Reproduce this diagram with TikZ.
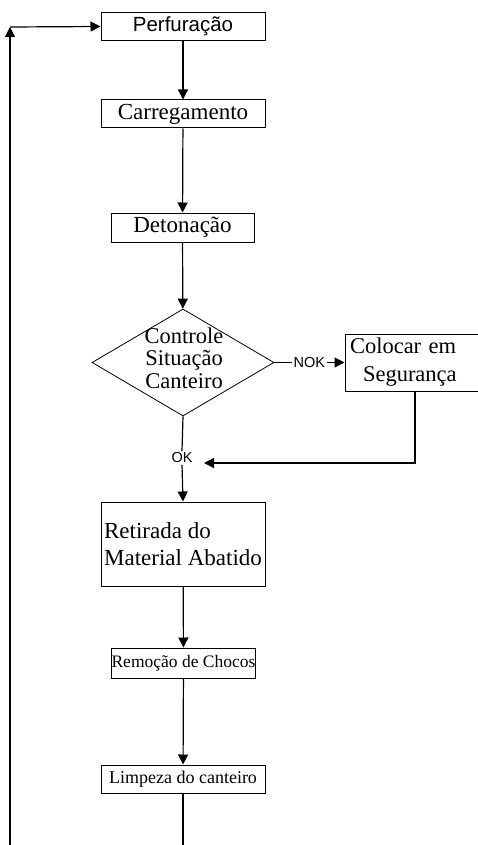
\documentclass[tikz,border=0pt]{standalone}
\usepackage{fontspec}
\setmainfont{Liberation Serif}
\setsansfont{Liberation Sans}
\usetikzlibrary{arrows.meta,shapes.geometric}

\begin{document}
\begin{tikzpicture}[x = 1pt, y = -1pt,
	box/.style = {draw, line width = 1pt, inner sep = 0pt},
	flow/.style = {line width = 1.2pt, -{Triangle[width = 10pt, length = 10pt]}},
	plain/.style = {line width = 1.2pt},
	sanslabel/.style = {font = \sffamily\fontsize{14.5}{17}\selectfont, inner sep = 1.5pt}]
	 \useasboundingbox (0, 0) rectangle (478, 845);
	 
	 \node[box, minimum width = 164pt, minimum height = 28pt, font = \sffamily\fontsize{20.5}{24}\selectfont] (perf) at (183, 26.5) {Perfuração};
	 \node[box, minimum width = 164pt, minimum height = 28pt, font = \fontsize{23}{27}\selectfont] (carr) at (183, 114) {Carregamento};
	 \node[box, minimum width = 143pt, minimum height = 29pt, font = \fontsize{23}{27}\selectfont] (deto) at (182.5, 227.5) {Detonação};
	 \node[diamond, draw, line width = 0.8pt, minimum width = 182pt, minimum height = 107pt, inner sep = 0pt] (ctrl) at (183, 362.5) {};
	 \node[align = center, inner sep = 0pt, font = \fontsize{22.5}{22.5}\selectfont] (ctrltxt) at (184, 358) {Controle\\Situação\\Canteiro};
	 \node[box, minimum width = 140pt, minimum height = 57pt, text width = 130pt, align = left, font = \fontsize{22.5}{28}\selectfont] (seg) at (415, 362.5) {Colocar em\\\hspace*{13pt}Segurança};
	 \node[sanslabel] (ok) at (182, 458) {OK};
	 \node[box, minimum width = 164pt, minimum height = 84pt, align = left, font = \fontsize{23}{27}\selectfont] (ret) at (183, 544) {Retirada do\\Material Abatido};
	 \node[box, minimum width = 143pt, minimum height = 30pt, font = \fontsize{17.5}{20}\selectfont] (rem) at (183.5, 663) {Remoção de Chocos};
	 \node[box, minimum width = 164pt, minimum height = 28pt, font = \fontsize{18}{21}\selectfont] (limp) at (183, 779) {Limpeza do canteiro};
	 
	 \coordinate (okin) at (204, 463);
	 \coordinate (bottomend) at (183, 846);
	 \coordinate (loopbot) at (10, 846);
	 \coordinate (looptop) at (10, 27);
	 
	 \draw[flow] (perf) -- (carr);
	 \draw[flow] (carr) -- (deto);
	 \draw[flow] (deto) -- (ctrl);
	 \draw[flow] (ctrl.east) -- node[sanslabel, fill = white] {NOK} (seg.west);
	 \draw[flow] (seg.south) |- (okin);
	 \draw[plain] (ctrl.south) -- (ok.north);
	 \draw[flow] (ok.south) -- (ret.north);
	 \draw[flow] (ret) -- (rem);
	 \draw[flow] (rem) -- (limp);
	 \draw[plain] (limp.south) -- (bottomend);
	 
	 \draw[flow] (loopbot) -- (looptop);
	 \draw[flow] (looptop) -- (perf.west);
\end{tikzpicture}
\end{document}
